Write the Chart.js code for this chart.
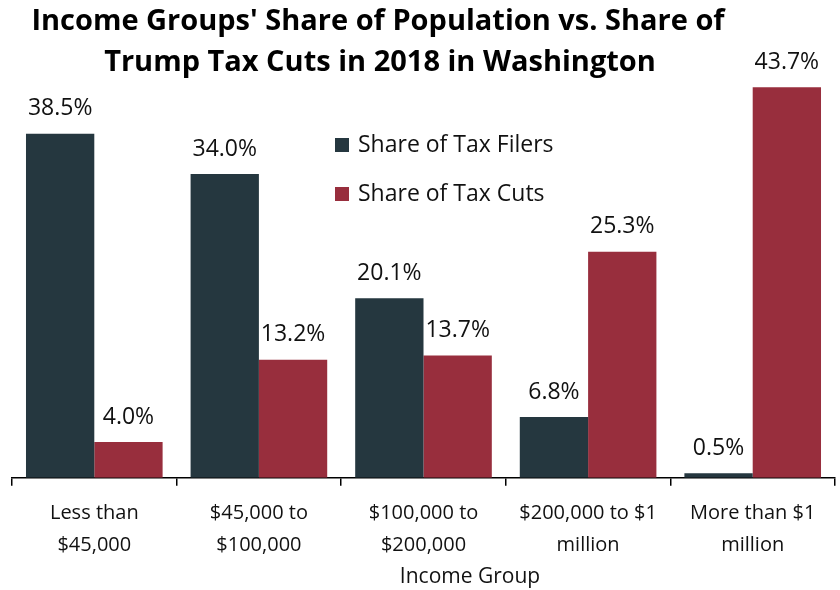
<!DOCTYPE html>
<html>
<head>
<meta charset="utf-8">
<script src="https://cdn.jsdelivr.net/npm/chart.js@4"></script>
<style>
  html, body { margin: 0; padding: 0; background: #ffffff; }
  #wrap { width: 840px; height: 590px; position: relative; }
</style>
</head>
<body>
<div id="wrap"><canvas id="taxChart" width="840" height="590"></canvas></div>
<script>
// Data
const categories = [
  ["Less than", "$45,000"],
  ["$45,000 to", "$100,000"],
  ["$100,000 to", "$200,000"],
  ["$200,000 to $1", "million"],
  ["More than $1", "million"],
];
const taxFilers = [38.5, 34.0, 20.1, 6.8, 0.5];
const taxCuts = [4.0, 13.2, 13.7, 25.3, 43.7];
const seriesNames = ["Share of Tax Filers", "Share of Tax Cuts"];
const titleLines = [
  "Income Groups' Share of Population vs. Share of",
  "Trump Tax Cuts in 2018 in Washington",
];
const axisTitle = "Income Group";

const DARK = "#25373f";
const RED = "#982e3d";
const FONT = "'Open Sans', 'Noto Sans', sans-serif";

// draws title, value labels, legend and axis title
const extras = {
  id: "extras",
  afterDatasetsDraw(chart) {
    const ctx = chart.ctx;
    ctx.save();

    // value labels above each bar
    ctx.fillStyle = "#111111";
    ctx.font = "23px " + FONT;
    ctx.textAlign = "center";
    ctx.textBaseline = "middle";
    chart.data.datasets.forEach((ds, i) => {
      chart.getDatasetMeta(i).data.forEach((bar, j) => {
        ctx.fillText(ds.data[j].toFixed(1) + "%", bar.x, bar.y - 25);
      });
    });

    // title
    ctx.fillStyle = "#000000";
    ctx.font = "bold 29px " + FONT;
    ctx.fillText(titleLines[0], 378, 22);
    ctx.fillText(titleLines[1], 380, 63);

    // legend
    ctx.font = "23px " + FONT;
    ctx.textAlign = "left";
    [DARK, RED].forEach((c, i) => {
      const y = 145 + i * 49;
      ctx.fillStyle = c;
      ctx.fillRect(335, y - 7, 14, 14);
      ctx.fillStyle = "#111111";
      ctx.fillText(seriesNames[i], 358, y);
    });

    // axis title
    ctx.textAlign = "center";
    ctx.font = "21px " + FONT;
    ctx.fillText(axisTitle, 470, 577);
    ctx.restore();
  },
};

new Chart(document.getElementById("taxChart").getContext("2d"), {
  type: "bar",
  data: {
    labels: categories,
    datasets: [
      { label: seriesNames[0], data: taxFilers, backgroundColor: DARK },
      { label: seriesNames[1], data: taxCuts, backgroundColor: RED },
    ],
  },
  options: {
    responsive: false,
    animation: false,
    events: [],
    layout: { padding: { top: 31, left: 12, right: 5, bottom: 17 } },
    categoryPercentage: 0.83,
    barPercentage: 1.0,
    plugins: {
      legend: { display: false },
      title: { display: false },
      tooltip: { enabled: false },
    },
    scales: {
      x: {
        grid: {
          offset: true,
          drawOnChartArea: false,
          drawTicks: true,
          tickLength: 8,
          color: "#000000",
          lineWidth: 1.5,
        },
        border: { display: true, color: "#000000", width: 1.5 },
        ticks: {
          color: "#111111",
          padding: 12,
          maxRotation: 0,
          font: { family: FONT, size: 20, lineHeight: 1.58 },
        },
      },
      y: {
        display: false,
        min: 0,
        max: 50,
      },
    },
  },
  plugins: [extras],
});
</script>
</body>
</html>
